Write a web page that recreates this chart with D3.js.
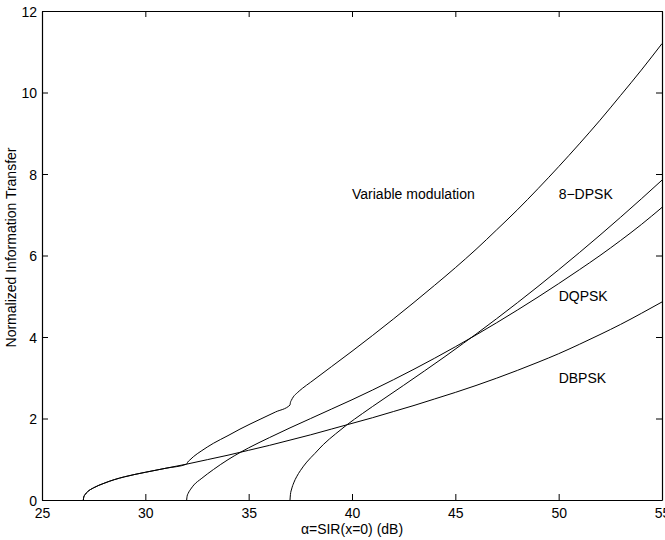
<!DOCTYPE html>
<html>
<head>
<meta charset="utf-8">
<script src="https://cdn.jsdelivr.net/npm/d3@7"></script>
<style>
  html, body { margin: 0; padding: 0; background: #fff; }
  svg { display: block; font-family: "Liberation Sans", Arial, Helvetica, sans-serif; }
</style>
</head>
<body>
<svg id="chart" width="665" height="540"></svg>
<script>
// ---- data ----
const xTicks = [25, 30, 35, 40, 45, 50, 55];
const yTicks = [0, 2, 4, 6, 8, 10, 12];

const dbpskX = [27, 27.02, 27.08, 27.2, 27.5, 28, 28.5, 29, 30, 31, 32, 33, 34, 35, 36, 37, 38, 39, 40, 41, 42, 43, 44, 45, 46, 47, 48, 49, 50, 51, 52, 53, 54, 55];
const dbpskY = [0, 0.07, 0.13, 0.2, 0.3, 0.41, 0.5, 0.57, 0.68, 0.78, 0.88, 0.99, 1.1, 1.22, 1.34, 1.47, 1.6, 1.74, 1.88, 2.02, 2.17, 2.32, 2.48, 2.64, 2.81, 2.99, 3.18, 3.38, 3.59, 3.82, 4.06, 4.31, 4.58, 4.86];

const dqpskX = [32, 32.02, 32.08, 32.2, 32.35, 32.7, 33.3, 34, 34.6, 35, 36, 37, 38, 39, 40, 41, 42, 43, 44, 45, 46, 47, 48, 49, 50, 51, 52, 53, 54, 55];
const dqpskY = [0, 0.09, 0.17, 0.27, 0.37, 0.52, 0.75, 0.99, 1.17, 1.28, 1.53, 1.77, 2.0, 2.23, 2.46, 2.7, 2.95, 3.21, 3.48, 3.76, 4.05, 4.35, 4.66, 4.98, 5.31, 5.65, 6.0, 6.37, 6.76, 7.18];

const dpsk8X = [37, 37.02, 37.08, 37.18, 37.32, 37.5, 37.81, 38.2, 38.61, 39.2, 39.74, 40.5, 41.5, 42.5, 43.5, 44.5, 45.4, 46, 47, 48, 49, 50, 51, 52, 53, 54, 55];
const dpsk8Y = [0, 0.13, 0.27, 0.42, 0.57, 0.72, 0.93, 1.14, 1.36, 1.62, 1.84, 2.12, 2.47, 2.815, 3.165, 3.52, 3.85, 4.07, 4.45, 4.84, 5.24, 5.65, 6.07, 6.5, 6.94, 7.39, 7.85];

const varX = [27, 27.02, 27.08, 27.2, 27.5, 28, 28.5, 29, 30, 31, 32, 32.05, 32.15, 32.32, 32.7, 33.29, 34, 34.58, 35.55, 36.3, 37, 37.02, 37.07, 37.16, 37.35, 37.6, 38, 38.5, 39, 40, 41, 42, 43, 44, 45, 46, 47, 48, 49, 50, 51, 52, 53, 54, 55];
const varY = [0, 0.07, 0.13, 0.2, 0.3, 0.41, 0.5, 0.57, 0.68, 0.78, 0.88, 0.93, 0.98, 1.06, 1.2, 1.39, 1.58, 1.74, 1.98, 2.16, 2.33, 2.39, 2.45, 2.53, 2.63, 2.74, 2.89, 3.08, 3.27, 3.65, 4.04, 4.44, 4.85, 5.27, 5.70, 6.15, 6.63, 7.12, 7.64, 8.18, 8.74, 9.32, 9.93, 10.55, 11.2];

const labels = ["Variable modulation", "8\u2212DPSK", "DQPSK", "DBPSK"];
const labelX = [40, 50, 50, 50];
const labelY = [7.5, 7.5, 5.0, 3.0];

const xTitle = "\u03B1=SIR(x=0) (dB)";
const yTitle = "Normalized Information Transfer";

// ---- layout ----
const svg = d3.select("#chart");
const L = 42, R = 662, T = 11, B = 500;
const x = d3.scaleLinear().domain([25, 55]).range([L, R]);
const y = d3.scaleLinear().domain([0, 12]).range([B, T]);
const fs = 14;

// axes
const gB = svg.append("g").attr("transform", `translate(0,${B})`)
  .call(d3.axisBottom(x).tickValues(xTicks).tickSizeInner(-6).tickSizeOuter(0).tickPadding(8).tickFormat(d3.format("d")));
const gL = svg.append("g").attr("transform", `translate(${L},0)`)
  .call(d3.axisLeft(y).tickValues(yTicks).tickSizeInner(-6).tickSizeOuter(0).tickPadding(5).tickFormat(d3.format("d")));
const gT = svg.append("g").attr("transform", `translate(0,${T})`)
  .call(d3.axisTop(x).tickValues(xTicks).tickSizeInner(-6).tickSizeOuter(0).tickFormat(""));
const gR = svg.append("g").attr("transform", `translate(${R},0)`)
  .call(d3.axisRight(y).tickValues(yTicks).tickSizeInner(-6).tickSizeOuter(0).tickFormat(""));

[gB, gL, gT, gR].forEach(g => {
  g.selectAll("path.domain").attr("stroke", "#000").attr("stroke-width", 1.2);
  g.selectAll(".tick line").attr("stroke", "#000").attr("stroke-width", 1);
  g.selectAll("text").attr("fill", "#000").style("font-size", fs + "px").style("font-family", "'Liberation Sans', Arial, sans-serif");
});
gL.selectAll(".tick text").attr("dy", "0.36em");

// curves
const line = d3.line().x(d => x(d[0])).y(d => y(d[1])).curve(d3.curveMonotoneX);
const series = [
  [dbpskX, dbpskY],
  [dqpskX, dqpskY],
  [dpsk8X, dpsk8Y],
  [varX, varY]
];
series.forEach(([xs, ys]) => {
  svg.append("path")
    .datum(xs.map((v, i) => [v, ys[i]]))
    .attr("d", line)
    .attr("fill", "none")
    .attr("stroke", "#000")
    .attr("stroke-width", 1);
});

// annotations
labels.forEach((t, i) => {
  svg.append("text")
    .attr("x", x(labelX[i]))
    .attr("y", y(labelY[i]))
    .attr("dy", "0.36em")
    .style("font-size", fs + "px")
    .attr("fill", "#000")
    .text(t);
});

// titles
svg.append("text")
  .attr("x", (L + R) / 2).attr("y", 534)
  .attr("text-anchor", "middle")
  .style("font-size", fs + "px")
  .text(xTitle);

svg.append("text")
  .attr("transform", `translate(16,${(T + B) / 2 - 8}) rotate(-90)`)
  .attr("text-anchor", "middle")
  .style("font-size", fs + "px")
  .text(yTitle);
</script>
</body>
</html>
